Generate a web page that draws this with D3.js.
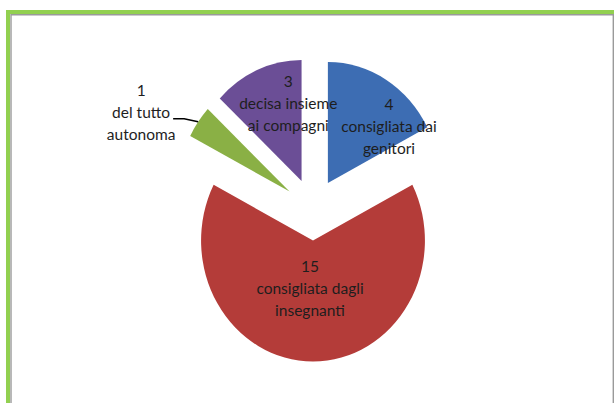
<!DOCTYPE html>
<html>
<head>
<meta charset="utf-8">
<script src="https://cdn.jsdelivr.net/npm/d3@7"></script>
<style>
  html, body { margin: 0; padding: 0; background: #fff; }
  svg { display: block; }
</style>
</head>
<body>
<svg id="chart"></svg>
<script>
// Data, clockwise from 12 o'clock
const categories = ['consigliata dai genitori', 'consigliata dagli insegnanti', 'del tutto autonoma', 'decisa insieme ai compagni'];
const values = [4, 15, 1, 3];
const labelLines = [
  ['4', 'consigliata dai', 'genitori'],
  ['15', 'consigliata dagli', 'insegnanti'],
  ['1', 'del tutto', 'autonoma'],
  ['3', 'decisa insieme', 'ai compagni']
];
const colors = ['#3d6db3', '#b43c39', '#8ab045', '#6b4e96'];

const width = 614;
const height = 403;
const cx = 313, cy = 209.5;
const radius = 121;
const xScale = 0.925;   // the pie is slightly squashed horizontally
const explode = 31;
const lineHeight = 22;

// label nudges from the slice centroid (layout only)
const labelNudge = [[32, -5], [-3, -12], null, [9, -22]];

const svg = d3.select('#chart')
  .attr('width', width)
  .attr('height', height);

// frame
svg.append('rect').attr('x', 6).attr('y', 10).attr('width', width - 6).attr('height', 4).attr('fill', '#92d050');
svg.append('rect').attr('x', 6).attr('y', 10).attr('width', 4).attr('height', height - 10).attr('fill', '#92d050');
svg.append('line').attr('x1', 11).attr('y1', 14.7).attr('x2', 613.5).attr('y2', 14.7).attr('stroke', '#9a9a9a').attr('stroke-width', 1.4);
svg.append('line').attr('x1', 11).attr('y1', 14).attr('x2', 11).attr('y2', height).attr('stroke', '#9a9a9a').attr('stroke-width', 1.4);
svg.append('line').attr('x1', 613.3).attr('y1', 14).attr('x2', 613.3).attr('y2', height).attr('stroke', '#9a9a9a').attr('stroke-width', 1.4);

const pie = d3.pie().sort(null).value(d => d);
const arcs = pie(values);

const arc = d3.arc().innerRadius(0).outerRadius(radius);

// vertex of each exploded slice in screen coords
function vertex(d) {
  const mid = (d.startAngle + d.endAngle) / 2;
  return [cx + Math.sin(mid) * explode * xScale, cy - Math.cos(mid) * explode];
}

arcs.forEach((d, i) => {
  const [vx, vy] = vertex(d);
  svg.append('path')
    .attr('transform', `translate(${vx},${vy}) scale(${xScale},1)`)
    .attr('d', arc(d))
    .attr('fill', colors[i]);
});

const textG = svg.append('g')
  .attr('font-family', 'Lato, "Open Sans", sans-serif')
  .attr('font-size', '15.5px')
  .attr('fill', '#1e1e1e')
  .attr('text-anchor', 'middle');

arcs.forEach((d, i) => {
  const [vx, vy] = vertex(d);
  let lx, ly;
  if (labelNudge[i]) {
    const c = arc.centroid(d);
    lx = vx + c[0] * xScale + labelNudge[i][0];
    ly = vy + c[1] + labelNudge[i][1];
  } else {
    // outside label with leader line
    const mid = (d.startAngle + d.endAngle) / 2;
    const ex = vx + Math.sin(mid) * radius * xScale;
    const ey = vy - Math.cos(mid) * radius;
    const bx = ex - 14, by = ey - 3;
    svg.append('path')
      .attr('d', d3.line()([[ex, ey], [bx, by], [bx - 11, by]]))
      .attr('fill', 'none')
      .attr('stroke', '#000')
      .attr('stroke-width', 1.5);
    lx = bx - 43;
    ly = by - 6;
  }
  labelLines[i].forEach((t, k) => {
    textG.append('text')
      .attr('x', lx)
      .attr('y', ly + (k - 1) * lineHeight)
      .attr('dy', '0.35em')
      .text(t);
  });
});
</script>
</body>
</html>
